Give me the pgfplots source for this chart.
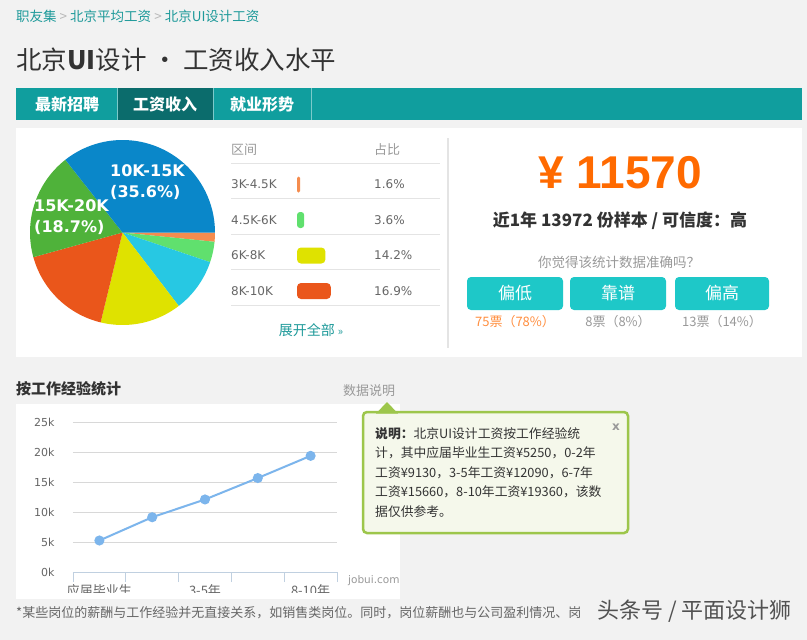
\documentclass[border=0pt]{standalone}
\usepackage{pgfplots}
\pgfplotsset{compat=1.18}
\usepgfplotslibrary{polar}
\usepackage{fontspec}
\setmainfont{Noto Sans CJK SC}
\newfontfamily\dv{DejaVu Sans}
\newfontfamily\ar{Liberation Sans}
\newcommand\fs[1]{\fontsize{#1}{#1}\selectfont}

\definecolor{bg}{HTML}{F2F2F2}
\definecolor{tabc}{HTML}{109E9E}
\definecolor{tabdark}{HTML}{0B6C6C}
\definecolor{link}{HTML}{1E9A9A}
\definecolor{txt}{HTML}{333333}
\definecolor{grayt}{HTML}{999999}
\definecolor{midt}{HTML}{666666}
\definecolor{sepc}{HTML}{E4E4E4}
\definecolor{orng}{HTML}{FF6A00}
\definecolor{btn}{HTML}{1EC8C8}
\definecolor{pblue}{HTML}{0A87C9}
\definecolor{pgreen}{HTML}{4FB23A}
\definecolor{pred}{HTML}{EA561B}
\definecolor{pyellow}{HTML}{DFE200}
\definecolor{pcyan}{HTML}{27C8E3}
\definecolor{plgreen}{HTML}{60E06E}
\definecolor{porange}{HTML}{F58C4E}
\definecolor{linec}{HTML}{7CB5EC}
\definecolor{axisc}{HTML}{C0D0E0}
\definecolor{gridc}{HTML}{D8D8D8}
\definecolor{tipb}{HTML}{9DC64B}
\definecolor{tipf}{HTML}{F5F8EB}

\begin{document}
\begin{tikzpicture}[x=1pt,y=1pt]
\useasboundingbox (0,0) rectangle (807,-640);
\fill[bg] (0,0) rectangle (807,-640);

% header
\node[anchor=west,inner sep=0,font=\fs{13.5}] at (16,-16) {\textcolor{link}{职友集} \textcolor{grayt!70}{>} \textcolor{link}{北京平均工资} \textcolor{grayt!70}{>} \textcolor{link}{北京UI设计工资}};
\node[anchor=west,inner sep=0,font=\fs{25.5},text=txt] at (16,-60) {北京\textbf{UI}设计 • 工资收入水平};

% tabs
\fill[tabc] (16,-88) rectangle (802,-120);
\fill[tabdark] (117,-88) rectangle (213,-120);
\foreach \xx in {117,213,311} \draw[white!45!tabc, line width=1pt] (\xx,-88) -- (\xx,-120);
\node[font=\fs{16}\bfseries,text=white] at (67,-104) {最新招聘};
\node[font=\fs{16}\bfseries,text=white] at (165,-104) {工资收入};
\node[font=\fs{16}\bfseries,text=white] at (262,-104) {就业形势};

% upper panel
\fill[white] (16,-128) rectangle (802,-357);
\draw[sepc, line width=2pt] (448,-138) -- (448,-348);

% pie (slices clockwise from 3 o'clock: 1.6, 3.6, 9.4, 14.2, 16.9, 18.7, 35.6 %)
\begin{polaraxis}[at={(122.5pt,-232.5pt)}, anchor=center, scale only axis,
  width=185pt, height=185pt, xmin=0, xmax=360, ymin=0, ymax=1,
  hide axis, clip=false]
\addplot[draw=none, fill=porange, domain=-5.76:0, samples=6] {1} -- (axis cs:0,0) -- cycle;
\addplot[draw=none, fill=plgreen, domain=-18.72:-5.76, samples=10] {1} -- (axis cs:0,0) -- cycle;
\addplot[draw=none, fill=pcyan, domain=-52.56:-18.72, samples=20] {1} -- (axis cs:0,0) -- cycle;
\addplot[draw=none, fill=pyellow, domain=-103.68:-52.56, samples=30] {1} -- (axis cs:0,0) -- cycle;
\addplot[draw=none, fill=pred, domain=-164.52:-103.68, samples=30] {1} -- (axis cs:0,0) -- cycle;
\addplot[draw=none, fill=pgreen, domain=-231.84:-164.52, samples=30] {1} -- (axis cs:0,0) -- cycle;
\addplot[draw=none, fill=pblue, domain=-360:-231.84, samples=50] {1} -- (axis cs:0,0) -- cycle;
\end{polaraxis}
\node[anchor=west,inner sep=0,font=\dv\bfseries\fs{16},text=white] at (110,-171) {10K-15K};
\node[anchor=west,inner sep=0,font=\dv\bfseries\fs{16},text=white] at (110,-192) {(35.6\%)};
\node[anchor=west,inner sep=0,font=\dv\bfseries\fs{16},text=white] at (34,-206) {15K-20K};
\node[anchor=west,inner sep=0,font=\dv\bfseries\fs{16},text=white] at (34,-227) {(18.7\%)};

% table
\node[anchor=west,inner sep=0,font=\fs{13},text=grayt] at (231,-150) {区间};
\node[anchor=west,inner sep=0,font=\fs{13},text=grayt] at (374,-150) {占比};
\foreach \yy in {163,198,234,269,305} \draw[sepc, line width=1pt] (231,-\yy) -- (440,-\yy);
\foreach \lab/\val/\yy in {3K-4.5K/1.6/184.5, 4.5K-6K/3.6/220, 6K-8K/14.2/255.5, 8K-10K/16.9/291}{
  \node[anchor=west,inner sep=0,font=\dv\fs{12},text=midt] at (231,-\yy) {\lab};
  \node[anchor=west,inner sep=0,font=\dv\fs{12},text=midt] at (374,-\yy) {\val\%};
}
\begin{axis}[at={(297pt,-166.75pt)}, anchor=north west, scale only axis,
  width=40pt, height=142pt, xmin=0, xmax=20, ymin=0.5, ymax=4.5,
  y dir=reverse, hide axis, xbar, bar width=16pt, bar shift=0pt, clip=false]
\addplot[draw=none, fill=porange, rounded corners=1.5pt] coordinates {(1.6,1)};
\addplot[draw=none, fill=plgreen, rounded corners=3pt] coordinates {(3.6,2)};
\addplot[draw=none, fill=pyellow, rounded corners=4pt] coordinates {(14.2,3)};
\addplot[draw=none, fill=pred, rounded corners=4pt] coordinates {(16.9,4)};
\end{axis}
\node[font=\fs{14},text=link] at (311,-330) {展开全部 \fs{11}»};

% right panel
\node[font=\ar\bfseries\fs{46},text=orng] at (620,-173) {¥ 11570};
\node[font=\bfseries\fs{17},text=txt] at (620,-221) {近1年 13972 份样本 / 可信度：高};
\node[font=\fs{13.5},text=grayt] at (619,-262) {你觉得该统计数据准确吗？};
\fill[btn, rounded corners=4pt] (467,-277) rectangle (563,-310);
\fill[btn, rounded corners=4pt] (570,-277) rectangle (666,-310);
\fill[btn, rounded corners=4pt] (675,-277) rectangle (769,-310);
\node[font=\fs{17},text=white] at (515,-293.5) {偏低};
\node[font=\fs{17},text=white] at (618,-293.5) {靠谱};
\node[font=\fs{17},text=white] at (722,-293.5) {偏高};
\node[font=\fs{13},text=orng!75] at (515,-322) {75票（78\%）};
\node[font=\fs{13},text=grayt] at (618,-322) {8票（8\%）};
\node[font=\fs{13},text=grayt] at (722,-322) {13票（14\%）};

% lower section
\node[anchor=west,inner sep=0,font=\bfseries\fs{15},text=txt] at (16,-389) {按工作经验统计};
\node[anchor=west,inner sep=0,font=\fs{13},text=grayt] at (343,-391) {数据说明};
\fill[white] (16,-404) rectangle (400,-599);

\begin{scope}
\clip (16,-404) rectangle (400,-592);
\begin{axis}[at={(73pt,-572pt)}, anchor=south west, scale only axis,
  width=264pt, height=150pt, xmin=0, xmax=5, ymin=0, ymax=25000,
  scaled y ticks=false,
  axis x line*=bottom, axis y line*=left, axis line style={-},
  y axis line style={draw=none},
  x axis line style={draw=axisc, line width=1pt},
  xtick={0,...,5}, xticklabels={},
  xtick style={draw=axisc, line width=0.8pt},
  tick align=outside, major tick length=10pt,
  ytick={0,5000,...,25000}, yticklabels={0k,5k,10k,15k,20k,25k},
  ytick style={draw=none},
  yticklabel style={font=\dv\fs{11}, text=midt, xshift=-5pt},
  ymajorgrids, grid style={draw=gridc, line width=1pt},
  extra x ticks={0.5,2.5,4.5},
  extra x tick labels={应届毕业生,3-5年,8-10年},
  extra x tick style={major tick length=0pt, grid=none,
    tick label style={font=\fs{13}, text=midt, yshift=-9pt}},
  clip=false]
\addplot[color=linec, line width=2pt, mark=*, mark size=4pt,
  mark options={fill=linec, draw=linec}]
  coordinates {(0.5,5250) (1.5,9130) (2.5,12090) (3.5,15660) (4.5,19360)};
\end{axis}
\node[anchor=west,inner sep=0,font=\dv\fs{10.5},text=grayt] at (348,-581) {jobui.com};
\end{scope}

% tooltip
\filldraw[fill=tipf, draw=tipb, line width=2.5pt, rounded corners=4pt] (363,-412) rectangle (628,-533);
\fill[tipb] (376,-413.5) -- (387,-402) -- (398,-413.5) -- cycle;
\node[font=\dv\bfseries\fs{12},text=grayt] at (616,-427) {x};
\node[anchor=west,inner sep=0,font=\fs{12.8},text=txt] at (375,-434) {\textbf{说明：}北京UI设计工资按工作经验统};
\node[anchor=west,inner sep=0,font=\fs{12.8},text=txt] at (375,-453) {计，其中应届毕业生工资¥5250，0-2年};
\node[anchor=west,inner sep=0,font=\fs{12.8},text=txt] at (375,-472.5) {工资¥9130，3-5年工资¥12090，6-7年};
\node[anchor=west,inner sep=0,font=\fs{12.8},text=txt] at (375,-492) {工资¥15660，8-10年工资¥19360，该数};
\node[anchor=west,inner sep=0,font=\fs{12.8},text=txt] at (375,-511.5) {据仅供参考。};

% footer
\node[anchor=west,inner sep=0,font=\fs{13},text=midt] at (16,-613) {*某些岗位的薪酬与工作经验并无直接关系，如销售类岗位。同时，岗位薪酬也与公司盈利情况、岗};
\node[anchor=east,inner sep=0,font=\fs{22},text=txt!85] at (792,-611) {头条号 / 平面设计狮};
\end{tikzpicture}
\end{document}
